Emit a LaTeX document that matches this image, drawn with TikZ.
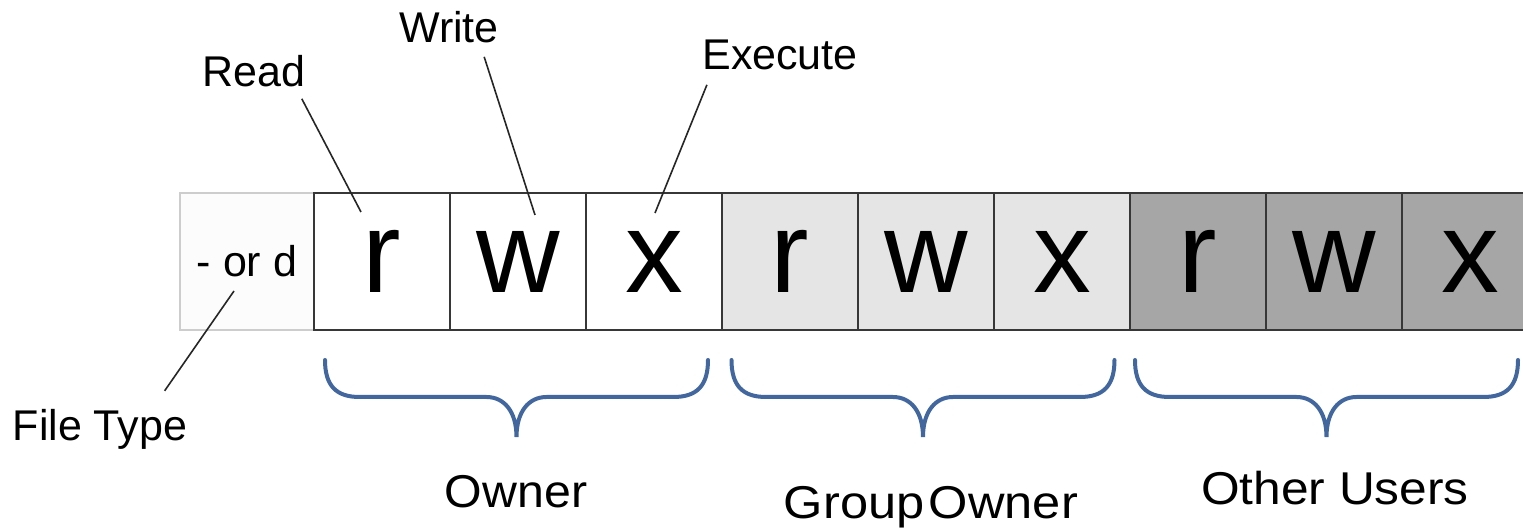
\documentclass[tikz,border=0pt]{standalone}
\usepackage{fontspec}
\setmainfont{Liberation Sans}
\definecolor{cellborder}{RGB}{55,55,55}
\definecolor{typeborder}{RGB}{205,205,205}
\definecolor{typefill}{RGB}{252,252,252}
\definecolor{groupfill}{RGB}{229,229,229}
\definecolor{otherfill}{RGB}{166,166,166}
\definecolor{bracecol}{RGB}{66,103,158}
\newcommand\rwxfont{\fontsize{57.8pt}{60pt}\selectfont}
\newcommand\lblfont{\fontsize{21.5pt}{24pt}\selectfont}
\newcommand\grpfont{\fontsize{23pt}{26pt}\selectfont}
\begin{document}
\begin{tikzpicture}[x=0.5pt,y=-0.5pt,
  cell/.style={draw=cellborder, line width=1pt, minimum width=68pt, minimum height=68.5pt, inner sep=0pt, font=\rwxfont},
  typecell/.style={draw=typeborder, fill=typefill, line width=0.8pt, minimum width=67pt, minimum height=68.5pt, inner sep=0pt, font=\lblfont},
  ownercell/.style={cell, fill=white},
  groupcell/.style={cell, fill=groupfill},
  othercell/.style={cell, fill=otherfill},
  lbl/.style={inner sep=0pt, font=\lblfont, anchor=base},
  grplbl/.style={inner sep=0pt, font=\grpfont, anchor=base},
  conn/.style={draw=black!85, line width=0.8pt},
  ubrace/.pic={
    \draw[draw=bracecol, line width=2pt, line cap=round]
      (-191.5,0) .. controls (-191.5,25) and (-181,37) .. (-157,37)
      -- (-30,37) .. controls (-12,37) and (0,52) .. (0,77)
      .. controls (0,52) and (12,37) .. (30,37)
      -- (157,37) .. controls (181,37) and (191.5,25) .. (191.5,0);
  }]
\useasboundingbox (0,0) rectangle (1523,528);
\clip (0,0) rectangle (1523,528);
\fill[white] (0,0) rectangle (1523,528);

% cells
\node[typecell] (c0) at (247,261.5) {- or d};
\node[ownercell] (o1) at (382,261.5) {r};
\node[ownercell] (o2) at (518,261.5) {w};
\node[ownercell] (o3) at (654,261.5) {x};
\node[groupcell] (g1) at (790,261.5) {r};
\node[groupcell] (g2) at (926,261.5) {w};
\node[groupcell] (g3) at (1062,261.5) {x};
\node[othercell] (u1) at (1198,261.5) {r};
\node[othercell] (u2) at (1334,261.5) {w};
\node[othercell] (u3) at (1470,261.5) {x};

% top labels
\node[lbl] (read) at (254,87) {Read};
\node[lbl] (write) at (449,43) {Write};
\node[lbl] (execute) at (780,70) {Execute};
\node[lbl] (filetype) at (100,441) {File Type};

% connectors
\draw[conn] ([shift={(-4,11)}]read.south east) -- ([shift={(-21,-49.5)}]o1.center);
\draw[conn] ([shift={(-15,13)}]write.south east) -- ([shift={(17,-46.5)}]o2.center);
\draw[conn] ([shift={(5,14)}]execute.south west) -- ([shift={(1,-48.5)}]o3.center);
\draw[conn] ([shift={(-13,29.5)}]c0.center) -- ([shift={(-23,-18.6)}]filetype.north east);

% braces
\pic at (516.5,360) {ubrace};
\pic at (923,360) {ubrace};
\pic at (1326.5,360) {ubrace};

% group labels
\node[grplbl] (owner) at (516,508) {\scalebox{1.05}[1]{Owner}};
\node[grplbl] (groupowner) at (931,519) {\scalebox{1.1}[1]{\spaceskip=2pt Group Owner}};
\node[grplbl] (others) at (1335,505) {\scalebox{1.08}[1]{Other Users}};
\end{tikzpicture}
\end{document}
